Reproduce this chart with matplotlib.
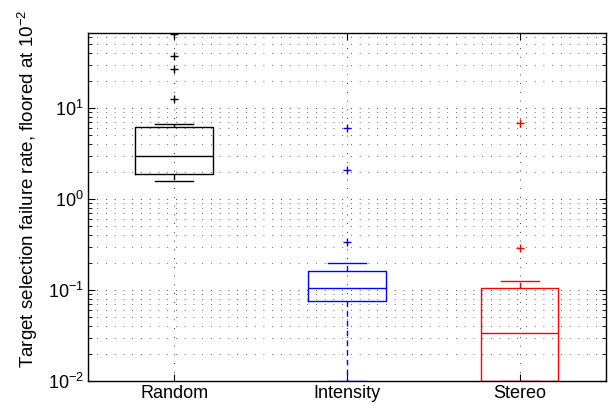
import matplotlib
matplotlib.use('Agg')
import matplotlib.pyplot as plt
import matplotlib.ticker as mticker

plt.rcParams['font.family'] = ['Liberation Sans', 'DejaVu Sans']
plt.rcParams['mathtext.fontset'] = 'custom'
plt.rcParams['mathtext.rm'] = 'Liberation Sans'
plt.rcParams['mathtext.it'] = 'Liberation Sans:italic'
plt.rcParams['mathtext.bf'] = 'Liberation Sans:bold'

# box statistics (log axis)
categories = ['Random', 'Intensity', 'Stereo']
q1 = [1.90, 0.0757, 0.01]
medians = [2.99, 0.106, 0.0337]
q3 = [6.14, 0.162, 0.106]
whisker_lo = [1.57, 0.01, 0.01]
whisker_hi = [6.72, 0.198, 0.125]
outliers = [
    [65.0, 37.6, 26.9, 12.5],
    [5.98, 2.10, 0.334],
    [6.89, 0.287],
]
colors = ['#000000', '#0000ff', '#ff0000']

fig = plt.figure(figsize=(6.09, 4.05), dpi=100)
ax = fig.add_axes([0.1445, 0.0593, 0.8505, 0.8592])

stats = []
for i, name in enumerate(categories):
    stats.append({
        'label': name,
        'q1': q1[i], 'med': medians[i], 'q3': q3[i],
        'whislo': whisker_lo[i], 'whishi': whisker_hi[i],
        'fliers': outliers[i],
    })

for i, st in enumerate(stats):
    c = colors[i]
    ax.bxp([st], positions=[i + 1], widths=0.45, capwidths=0.22,
           boxprops=dict(color=c, lw=1.0),
           medianprops=dict(color=c, lw=1.0),
           whiskerprops=dict(color=c, lw=1.0, linestyle=(0, (4, 3))),
           capprops=dict(color=c, lw=1.0),
           flierprops=dict(marker='+', markeredgecolor=c, markersize=6,
                           markeredgewidth=1.0, linestyle='none'),
           manage_ticks=False)

ax.set_yscale('log')
ax.set_xlim(0.5, 3.5)
ax.set_ylim(0.01, 66.7)
ax.set_xticks([1, 2, 3])
ax.set_xticklabels(categories)
ax.yaxis.set_major_locator(mticker.LogLocator(base=10))
ax.yaxis.set_minor_locator(mticker.LogLocator(base=10, subs=range(2, 10)))
ax.yaxis.set_major_formatter(mticker.LogFormatterMathtext())
ax.yaxis.set_minor_formatter(mticker.NullFormatter())

dots = (0, (1, 9.5))
ax.grid(True, which='major', axis='both', color='black', linestyle=dots, lw=0.6)
ax.grid(True, which='minor', axis='y', color='black', linestyle=dots, lw=0.6, alpha=0.8)
ax.set_axisbelow(True)

ax.tick_params(which='both', direction='in', top=True, right=True, labelsize=13)
ax.tick_params(which='major', length=5, pad=3)
ax.tick_params(which='minor', length=3)
for s in ax.spines.values():
    s.set_linewidth(1.0)

ax.set_ylabel('Target selection failure rate, floored at 10$^{-2}$', fontsize=13.5)
ax.yaxis.set_label_coords(-0.093, 0.553)

plt.savefig('out.png', dpi=100)
plt.close()
